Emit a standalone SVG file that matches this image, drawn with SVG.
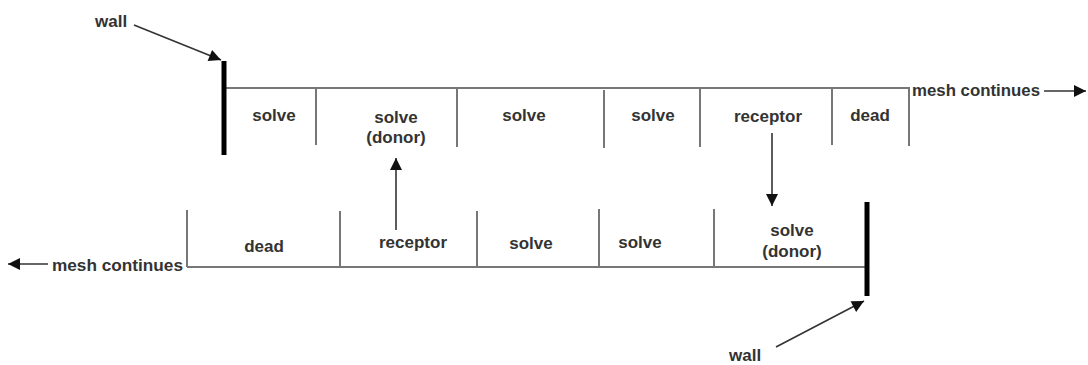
<svg xmlns="http://www.w3.org/2000/svg" width="1088" height="365" viewBox="0 0 1088 365">
<defs>
<marker id="ahb" viewBox="0 0 10 10" refX="10" refY="5" markerWidth="14" markerHeight="12" markerUnits="userSpaceOnUse" orient="auto">
<path d="M0,0 L10,5 L0,10 z" fill="#111"/>
</marker>
</defs>
<style>
.t{font-family:"Liberation Sans",Arial,sans-serif;font-weight:bold;font-size:17px;fill:#333;text-anchor:middle}
.ts{text-anchor:start}
.ln{stroke:#777;stroke-width:2;fill:none}
.wall{stroke:#000;stroke-width:5;fill:none}
.ar{stroke:#333;stroke-width:1.6;fill:none;marker-end:url(#ahb)}
</style>
<rect width="1088" height="365" fill="#fff"/>
<g id="top-mesh">
<line class="ln" x1="223" y1="88" x2="910" y2="88"/>
<line class="ln" x1="316" y1="88" x2="316" y2="145"/>
<line class="ln" x1="457" y1="88" x2="457" y2="147"/>
<line class="ln" x1="604" y1="90" x2="604" y2="148"/>
<line class="ln" x1="700" y1="88" x2="700" y2="147"/>
<line class="ln" x1="832" y1="88" x2="832" y2="145"/>
<line class="ln" x1="909" y1="88" x2="909" y2="146"/>
</g>
<g id="wall-top"><line class="wall" x1="224" y1="61" x2="224" y2="155"/></g>
<g id="cell-t1"><text class="t" x="274" y="121">solve</text></g>
<g id="cell-t2"><text class="t" x="396" y="123">solve</text><text class="t" x="396" y="143">(donor)</text></g>
<g id="cell-t3"><text class="t" x="524" y="121">solve</text></g>
<g id="cell-t4"><text class="t" x="653" y="121">solve</text></g>
<g id="cell-t5"><text class="t" x="768" y="122">receptor</text></g>
<g id="cell-t6"><text class="t" x="870" y="121">dead</text></g>
<g id="label-top-mesh"><text class="t ts" x="912" y="96" textLength="128" lengthAdjust="spacingAndGlyphs">mesh continues</text></g>
<g id="bottom-mesh">
<line class="ln" x1="187" y1="267" x2="867" y2="267"/>
<line class="ln" x1="187" y1="210" x2="187" y2="267"/>
<line class="ln" x1="340" y1="211" x2="340" y2="267"/>
<line class="ln" x1="477" y1="211" x2="477" y2="267"/>
<line class="ln" x1="599" y1="209" x2="599" y2="267"/>
<line class="ln" x1="714" y1="209" x2="714" y2="267"/>
</g>
<g id="wall-bottom"><line class="wall" x1="867" y1="202" x2="867" y2="296"/></g>
<g id="cell-b1"><text class="t" x="264" y="252">dead</text></g>
<g id="cell-b2"><text class="t" x="413" y="248">receptor</text></g>
<g id="cell-b3"><text class="t" x="531" y="249">solve</text></g>
<g id="cell-b4"><text class="t" x="640" y="248">solve</text></g>
<g id="cell-b5"><text class="t" x="792" y="236">solve</text><text class="t" x="792" y="257">(donor)</text></g>
<g id="label-bottom-mesh"><text class="t ts" x="52" y="271" textLength="131" lengthAdjust="spacingAndGlyphs">mesh continues</text></g>
<g id="label-wall-top"><text class="t ts" x="95" y="27">wall</text></g>
<g id="label-wall-bottom"><text class="t ts" x="729" y="361">wall</text></g>
<g id="connectors">
<line class="ar" x1="134" y1="25" x2="221" y2="60"/>
<line class="ar" x1="776" y1="347" x2="864" y2="301"/>
<line class="ar" x1="772" y1="133" x2="772" y2="206"/>
<line class="ar" x1="396" y1="230" x2="396" y2="158"/>
<line class="ar" x1="1044" y1="91" x2="1086" y2="91"/>
<line class="ar" x1="48" y1="264" x2="8" y2="264"/>
</g>
</svg>
